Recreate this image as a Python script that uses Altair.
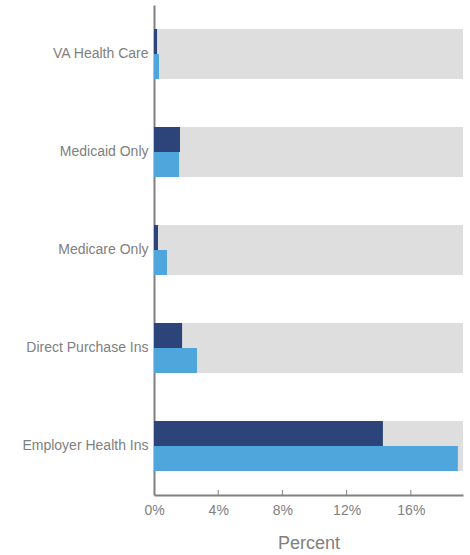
import altair as alt
import pandas as pd

categories = ["VA Health Care", "Medicaid Only", "Medicare Only", "Direct Purchase Ins", "Employer Health Ins"]
series_a = [0.19, 1.62, 0.25, 1.75, 14.26]
series_b = [0.31, 1.56, 0.81, 2.68, 18.93]
ticks = [0, 4, 8, 12, 16]
x_max = 19.25

rows = []
for c, a, b in zip(categories, series_a, series_b):
    rows.append({"cat": c, "series": "A", "value": a})
    rows.append({"cat": c, "series": "B", "value": b})
df = pd.DataFrame(rows)
bg = pd.DataFrame({"cat": categories, "value": [x_max] * len(categories)})
tk = pd.DataFrame({"t": ticks[1:]})

W, H = 309, 490
FONT = "Liberation Sans"
GREY = "#808080"

xscale = alt.Scale(domain=[0, x_max], nice=False, zero=True)
yscale = alt.Scale(domain=categories, paddingInner=0.49, paddingOuter=0.245)

background = alt.Chart(bg).mark_bar(color="#dedede").encode(
    y=alt.Y("cat:N", scale=yscale, sort=categories,
            axis=alt.Axis(title=None, ticks=False, domainColor=GREY, domainWidth=2,
                          labelColor=GREY, labelFont=FONT, labelFontSize=14,
                          labelPadding=6)),
    x=alt.X("value:Q", scale=xscale,
            axis=alt.Axis(title="Percent", values=ticks, ticks=False, grid=False,
                          domainColor=GREY, domainWidth=2, labelFlush=False,
                          labelColor=GREY, labelFont=FONT, labelFontSize=14,
                          labelPadding=8, labelExpr="datum.value + '%'",
                          titleColor=GREY, titleFont=FONT, titleFontSize=18,
                          titleFontWeight="normal", titlePadding=17)),
)

bars = alt.Chart(df).mark_bar().encode(
    y=alt.Y("cat:N", scale=yscale, sort=categories),
    yOffset=alt.YOffset("series:N", sort=["A", "B"]),
    x=alt.X("value:Q", scale=xscale),
    color=alt.Color("series:N", scale=alt.Scale(domain=["A", "B"], range=["#2c4479", "#4ea6dc"]),
                    legend=None),
)

tick_marks = alt.Chart(tk).mark_rule(color=GREY, strokeWidth=1).encode(
    x=alt.X("t:Q", scale=xscale),
    y=alt.value(H - 5),
    y2=alt.value(H),
)

chart = alt.layer(background, bars, tick_marks).properties(
    width=W, height=H,
    autosize=alt.AutoSizeParams(type="none"),
    padding={"left": 154, "top": 5, "right": 7, "bottom": 60},
).configure_view(stroke=None).configure_scale(bandPaddingInner=0)

chart.save("out.html", embed_options={"renderer": "svg", "actions": False})
